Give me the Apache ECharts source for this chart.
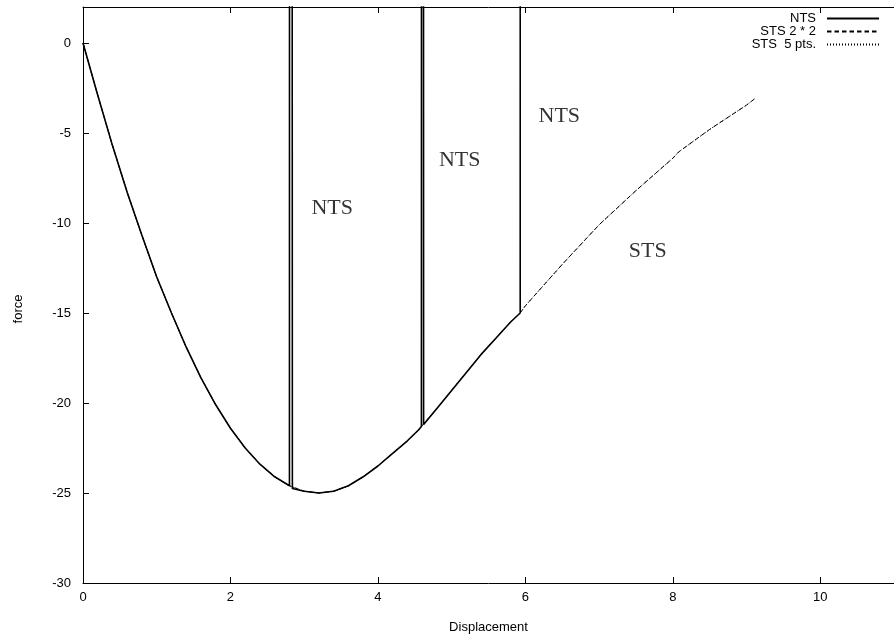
<!DOCTYPE html>
<html>
<head>
<meta charset="utf-8">
<script src="https://cdn.jsdelivr.net/npm/echarts@6/dist/echarts.min.js"></script>
<style>
  html, body { margin: 0; padding: 0; background: #fff; }
  #chart { width: 894px; height: 641px; }
</style>
</head>
<body>
<div id="chart"></div>
<script>
// smooth path shared by the STS runs (displacement, force)
const stsX = [0, 0.2, 0.4, 0.6, 0.8, 1.0, 1.2, 1.4, 1.6, 1.8, 2.0, 2.2, 2.4, 2.6, 2.8, 3.0, 3.2, 3.4, 3.6, 3.8, 4.0, 4.2, 4.4, 4.55, 4.8, 5.0, 5.2, 5.4, 5.6, 5.8, 5.93, 6.0, 6.5, 7.0, 7.5, 8.0, 8.08, 8.5, 9.0, 9.11];
const stsY = [0, -2.9, -5.7, -8.3, -10.7, -13.0, -15.0, -16.9, -18.6, -20.1, -21.4, -22.5, -23.4, -24.1, -24.6, -24.9, -25.0, -24.9, -24.6, -24.1, -23.5, -22.8, -22.1, -21.5, -20.3, -19.3, -18.3, -17.3, -16.4, -15.5, -15.0, -14.6, -12.3, -10.1, -8.2, -6.4, -6.05, -4.8, -3.45, -3.1];

// NTS run: follows the curve but blows up at three places
const ntsX = [0, 0.2, 0.4, 0.6, 0.8, 1.0, 1.2, 1.4, 1.6, 1.8, 2.0, 2.2, 2.4, 2.6, 2.8, 2.81, 2.84, 3.0, 3.2, 3.4, 3.6, 3.8, 4.0, 4.2, 4.4, 4.55, 4.59, 4.6, 4.62, 4.8, 5.0, 5.2, 5.4, 5.6, 5.8, 5.93, 5.935];
const ntsY = [0, -2.9, -5.7, -8.3, -10.7, -13.0, -15.0, -16.9, -18.6, -20.1, -21.4, -22.5, -23.4, -24.1, -24.6, 300, -24.75, -24.9, -25.0, -24.9, -24.6, -24.1, -23.5, -22.8, -22.1, -21.5, -21.3, 300, -21.2, -20.3, -19.3, -18.3, -17.3, -16.4, -15.5, -15.0, 300];

const noteText = ['NTS', 'NTS', 'NTS', 'STS'];
const noteX = [3.38, 5.11, 6.46, 7.66];
const noteY = [-9.2, -6.5, -4.05, -11.55];

const seriesNames = ['NTS', 'STS 2 * 2', 'STS  5 pts.'];

function zip(xs, ys) {
  return xs.map((x, i) => [x, ys[i]]);
}

const font = 'Liberation Sans, Arial, Helvetica, sans-serif';

function legendAt(name, top) {
  return {
    data: [name],
    right: 14,
    top: top,
    align: 'right',
    itemWidth: 52,
    itemHeight: 12,
    padding: 0,
    selectedMode: false,
    itemStyle: { opacity: 0 },
    textStyle: { color: '#000', fontSize: 13, fontFamily: font, padding: [0, 6, 0, 0] },
  };
}

const chart = echarts.init(document.getElementById('chart'));
chart.setOption({
  animation: false,
  backgroundColor: '#fff',
  grid: { left: 83, top: 7, width: 819.5, height: 576 },
  legend: [legendAt(seriesNames[0], 12), legendAt(seriesNames[1], 25), legendAt(seriesNames[2], 38)],
  xAxis: [{
    type: 'value',
    min: 0,
    max: 11,
    interval: 2,
    name: 'Displacement',
    nameLocation: 'middle',
    nameGap: 38,
    nameTextStyle: { color: '#000', fontSize: 13, fontFamily: font },
    axisLine: { onZero: false, lineStyle: { color: '#000', width: 1 } },
    axisTick: { inside: true, length: 6, lineStyle: { color: '#000' } },
    axisLabel: { color: '#000', fontSize: 13, fontFamily: font, margin: 8, showMaxLabel: false },
    splitLine: { show: false },
  }, {
    type: 'value',
    position: 'top',
    min: 0,
    max: 11,
    interval: 2,
    axisLine: { onZero: false, lineStyle: { color: '#000', width: 1 } },
    axisTick: { inside: true, length: 6, lineStyle: { color: '#000' } },
    axisLabel: { show: false },
    splitLine: { show: false },
  }],
  yAxis: {
    type: 'value',
    min: -30,
    max: 2,
    interval: 5,
    name: 'force',
    nameLocation: 'middle',
    nameGap: 58,
    nameTextStyle: { color: '#000', fontSize: 13, fontFamily: font, padding: [0, 28, 0, 0] },
    axisLine: { show: true, onZero: false, lineStyle: { color: '#000', width: 1 } },
    axisTick: { show: true, inside: true, length: 6, lineStyle: { color: '#000' } },
    axisLabel: { color: '#000', fontSize: 13, fontFamily: font, margin: 12, showMaxLabel: false },
    splitLine: { show: false },
  },
  series: [{
    name: seriesNames[2],
    type: 'line',
    symbol: 'none',
    data: zip(stsX, stsY),
    lineStyle: { color: '#000', width: 1, type: [1, 2] },
    itemStyle: { color: '#000' },
  }, {
    name: seriesNames[1],
    type: 'line',
    symbol: 'none',
    data: zip(stsX, stsY),
    lineStyle: { color: '#000', width: 1, type: [4.5, 3] },
    itemStyle: { color: '#000' },
  }, {
    name: seriesNames[0],
    type: 'line',
    symbol: 'none',
    data: zip(ntsX, ntsY),
    lineStyle: { color: '#000', width: 1.6 },
    itemStyle: { color: '#000' },
  }, {
    type: 'scatter',
    symbolSize: 0,
    silent: true,
    data: noteX.map((x, i) => ({ value: [x, noteY[i]], name: noteText[i] })),
    label: {
      show: true,
      position: 'inside',
      formatter: '{b}',
      color: '#000',
      fontSize: 22,
      fontFamily: 'Liberation Serif, Times New Roman, serif',
    },
  }],
});
</script>
</body>
</html>
